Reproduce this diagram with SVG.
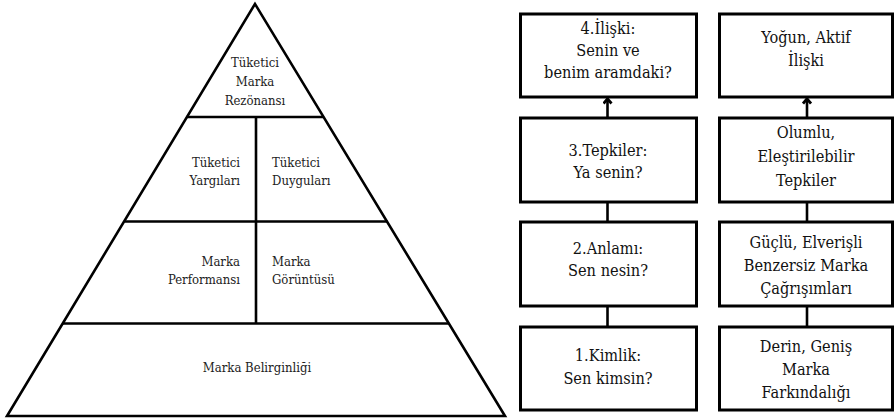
<svg xmlns="http://www.w3.org/2000/svg" width="894" height="419" viewBox="0 0 894 419">
<style>
  .ln { stroke: #000; stroke-width: 2.6; fill: none; }
  .box { stroke: #000; stroke-width: 3; fill: #fff; }
  text { font-family: "DejaVu Serif Condensed", "DejaVu Serif", "Liberation Serif", serif; }
  .pt { font-size: 13px; fill: #222; }
  .bt { font-size: 16.2px; fill: #111; text-anchor: middle; }
  .c { text-anchor: middle; }
  .r { text-anchor: end; }
  .s { text-anchor: start; }
</style>
<defs>
  <marker id="arr" viewBox="0 0 8 10" refX="6.5" refY="5" markerWidth="8" markerHeight="10" markerUnits="userSpaceOnUse" orient="auto">
    <path d="M1.5,1 L6.2,5 L1.5,9" fill="none" stroke="#000" stroke-width="2.8"/>
  </marker>
</defs>
<rect width="894" height="419" fill="#fff"/>

<g id="pyramid">
  <polygon class="ln" points="255,4 7,416 505,416"/>
  <line class="ln" x1="186.5" y1="117" x2="323.5" y2="117"/>
  <line class="ln" x1="124.5" y1="221.5" x2="387.5" y2="221.5"/>
  <line class="ln" x1="63" y1="323.5" x2="449" y2="323.5"/>
  <line class="ln" x1="256" y1="117" x2="256" y2="323.5"/>
</g>
<g id="p-rezonans">
  <text class="pt c" x="255" y="67">Tüketici</text>
  <text class="pt c" x="255" y="86">Marka</text>
  <text class="pt c" x="255" y="105">Rezönansı</text>
</g>
<g id="p-yargilar">
  <text class="pt r" x="240" y="167">Tüketici</text>
  <text class="pt r" x="240" y="185">Yargıları</text>
</g>
<g id="p-duygular">
  <text class="pt s" x="272" y="167">Tüketici</text>
  <text class="pt s" x="272" y="185">Duyguları</text>
</g>
<g id="p-performans">
  <text class="pt r" x="240" y="266">Marka</text>
  <text class="pt r" x="240" y="284">Performansı</text>
</g>
<g id="p-goruntu">
  <text class="pt s" x="272" y="266">Marka</text>
  <text class="pt s" x="272" y="284">Görüntüsü</text>
</g>
<g id="p-belirginlik">
  <text class="pt c" x="257" y="372">Marka Belirginliği</text>
</g>

<g id="connectors">
  <line class="ln" x1="607.5" y1="118" x2="607.5" y2="98.5" marker-end="url(#arr)"/>
  <line class="ln" x1="607.5" y1="202" x2="607.5" y2="222"/>
  <line class="ln" x1="607.5" y1="306" x2="607.5" y2="327"/>
  <line class="ln" x1="807" y1="118" x2="807" y2="98.5" marker-end="url(#arr)"/>
  <line class="ln" x1="807" y1="202" x2="807" y2="222"/>
  <line class="ln" x1="807" y1="306" x2="807" y2="327"/>
</g>

<g id="l-iliski">
  <rect class="box" x="520.5" y="14" width="176" height="83"/>
  <text class="bt" x="608" y="34">4.İlişki:</text>
  <text class="bt" x="608" y="56">Senin ve</text>
  <text class="bt" x="608" y="78">benim aramdaki?</text>
</g>
<g id="l-tepkiler">
  <rect class="box" x="520.5" y="118" width="176" height="84"/>
  <text class="bt" x="608" y="156">3.Tepkiler:</text>
  <text class="bt" x="608" y="178">Ya senin?</text>
</g>
<g id="l-anlami">
  <rect class="box" x="520.5" y="222" width="176" height="84"/>
  <text class="bt" x="608" y="254">2.Anlamı:</text>
  <text class="bt" x="608" y="276">Sen nesin?</text>
</g>
<g id="l-kimlik">
  <rect class="box" x="520.5" y="327" width="176" height="83"/>
  <text class="bt" x="608" y="361">1.Kimlik:</text>
  <text class="bt" x="608" y="384">Sen kimsin?</text>
</g>

<g id="r-iliski">
  <rect class="box" x="719.5" y="14" width="173" height="83"/>
  <text class="bt" x="806" y="43">Yoğun, Aktif</text>
  <text class="bt" x="806" y="66">İlişki</text>
</g>
<g id="r-tepkiler">
  <rect class="box" x="719.5" y="118" width="173" height="84"/>
  <text class="bt" x="806" y="138">Olumlu,</text>
  <text class="bt" x="806" y="162">Eleştirilebilir</text>
  <text class="bt" x="806" y="186">Tepkiler</text>
</g>
<g id="r-cagrisimlar">
  <rect class="box" x="719.5" y="222" width="173" height="84"/>
  <text class="bt" x="806" y="248">Güçlü, Elverişli</text>
  <text class="bt" x="806" y="271">Benzersiz Marka</text>
  <text class="bt" x="806" y="294">Çağrışımları</text>
</g>
<g id="r-farkindalik">
  <rect class="box" x="719.5" y="327" width="173" height="83"/>
  <text class="bt" x="806" y="352">Derin, Geniş</text>
  <text class="bt" x="806" y="375">Marka</text>
  <text class="bt" x="806" y="398">Farkındalığı</text>
</g>
</svg>
